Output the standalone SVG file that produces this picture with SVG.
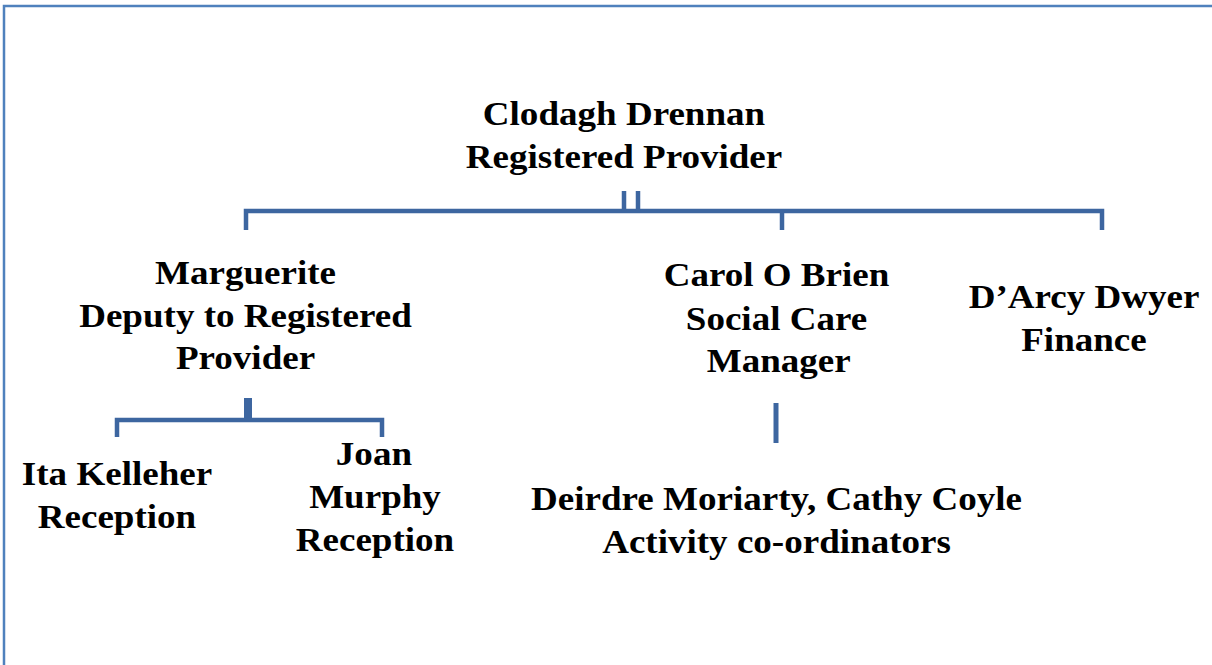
<svg xmlns="http://www.w3.org/2000/svg" width="1212" height="665" viewBox="0 0 1212 665">
<style>
text{font-family:"Liberation Serif","Times New Roman",serif;font-weight:bold;font-size:34px;fill:#000;text-anchor:middle}
.c{stroke:#3d66a0;stroke-width:4.5;fill:none}
</style>
<rect width="1212" height="665" fill="#fff"/>
<g id="frame"><path d="M4,665 V6 H1212" stroke="#4f81bd" stroke-width="2.5" fill="none"/></g>
<g id="connectors">
<path class="c" d="M246,230 V211 H1102 V230"/>
<path class="c" d="M782,211 V230"/>
<path class="c" d="M624,191 V211 M638,191 V211"/>
<path class="c" d="M117,437 V420 H382 V437"/>
<path class="c" d="M248,398 V420" style="stroke-width:8"/>
<path class="c" d="M776,403 V443" style="stroke-width:5"/>
</g>
<g id="n-clodagh" transform="translate(624,0) scale(1.09,1)"><text x="0" y="125">Clodagh Drennan</text><text x="0" y="168">Registered Provider</text></g>
<g id="n-marguerite" transform="translate(245.5,0) scale(1.09,1)"><text x="0" y="284">Marguerite</text><text x="0" y="327">Deputy to Registered</text><text x="0" y="369">Provider</text></g>
<g id="n-carol" transform="translate(776.5,0) scale(1.09,1)"><text x="0" y="286">Carol O Brien</text><text x="0" y="330">Social Care</text><text x="2" y="372">Manager</text></g>
<g id="n-darcy" transform="translate(1084,0) scale(1.09,1)"><text x="0" y="308">D’Arcy Dwyer</text><text x="0" y="351">Finance</text></g>
<g id="n-ita" transform="translate(117,0) scale(1.09,1)"><text x="0" y="485">Ita Kelleher</text><text x="0" y="528">Reception</text></g>
<g id="n-joan" transform="translate(375,0) scale(1.09,1)"><text x="-1" y="465">Joan</text><text x="0" y="508">Murphy</text><text x="0" y="551">Reception</text></g>
<g id="n-deirdre" transform="translate(776.5,0) scale(1.09,1)"><text x="0" y="510">Deirdre Moriarty, Cathy Coyle</text><text x="0" y="553">Activity co-ordinators</text></g>
</svg>
